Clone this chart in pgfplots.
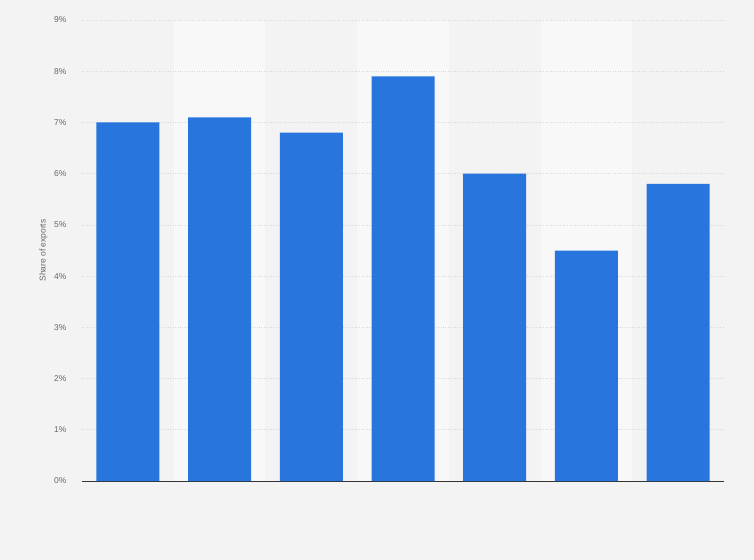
\documentclass[border=0pt]{standalone}
\usepackage{pgfplots}
\pgfplotsset{compat=1.18}
\usepackage{fontspec}
\setmainfont{Liberation Sans}
\definecolor{bg}{HTML}{F3F3F3}
\definecolor{band}{HTML}{F8F8F8}
\definecolor{barblue}{HTML}{2876DD}
\definecolor{ticktxt}{HTML}{666666}
\begin{document}
\begin{tikzpicture}
\begin{axis}[
    set layers,
    scale only axis,
    width=642bp, height=461bp,
    xmin=-0.5, xmax=6.5,
    ymin=0, ymax=9,
    ytick={0,1,...,9},
    yticklabel={\pgfmathprintnumber{\tick}\%},
    /pgf/number format/assume math mode=true,
    xtick=\empty,
    axis x line*=bottom,
    axis y line*=left,
    y axis line style={draw=none},
    x axis line style={draw=black!80, line width=0.9pt},
    ymajorgrids,
    grid style={draw=black!15, dotted, line width=0.6pt},
    major tick length=0pt,
    tick label style={font=\fontsize{8.5}{10}\selectfont, text=ticktxt},
    yticklabel style={xshift=-12bp},
    ylabel={Share of exports},
    ylabel style={font=\fontsize{8.5}{10}\selectfont, text=ticktxt, yshift=0bp},
    clip=false,
    ybar, bar width=63bp,
]
\begin{pgfonlayer}{axis background}
\fill[bg] ([xshift=-82bp,yshift=-79bp]rel axis cs:0,0) rectangle ++(754bp,560bp);
\fill[band] (axis cs:0.5,0) rectangle (axis cs:1.5,9);
\fill[band] (axis cs:2.5,0) rectangle (axis cs:3.5,9);
\fill[band] (axis cs:4.5,0) rectangle (axis cs:5.5,9);
\end{pgfonlayer}
\addplot[fill=barblue, draw=none] coordinates {
    (0,7.0) (1,7.1) (2,6.8) (3,7.9) (4,6.0) (5,4.5) (6,5.8)
};
\end{axis}
\end{tikzpicture}
\end{document}
